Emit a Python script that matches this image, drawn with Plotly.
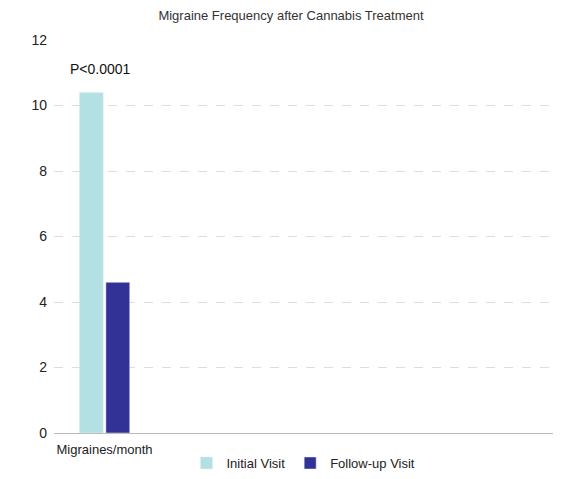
import plotly.graph_objects as go

categories = ["Migraines/month"]
initial = [10.4]
followup = [4.6]

fig = go.Figure()
fig.add_bar(x=categories, y=initial, name="Initial Visit", marker_color="#b3e0e3")
fig.add_bar(x=categories, y=followup, name="Follow-up Visit", marker_color="#323296")
fig.update_layout(
    width=566, height=479, barmode="group", bargap=0.35, bargroupgap=0.1,
    plot_bgcolor="white", paper_bgcolor="white",
    font=dict(family="Liberation Sans, Arial", size=13, color="#222"),
    title=dict(text="Migraine Frequency after Cannabis Treatment", x=0.5, y=0.993, yanchor="top",
               font=dict(size=13, color="#333")),
    margin=dict(l=46, r=21, t=32, b=54, autoexpand=False),
    xaxis=dict(range=[-0.62, 5.5], showline=True, linecolor="#bbb", ticks="", ticklabelstandoff=4,
               tickfont=dict(size=13, color="#222")),
    yaxis=dict(range=[0, 12], dtick=2, showgrid=True, gridcolor="#ddd", griddash="dash",
               zeroline=False, showline=False, ticklabelstandoff=6, tickfont=dict(size=14, color="#222")),
    legend=dict(orientation="h", x=0.5, xanchor="center", yref="container", y=0.05, yanchor="middle",
                font=dict(size=13, color="#222")),
    annotations=[dict(x=-0.05, y=11.1, xref="x", yref="y", text="P<0.0001", showarrow=False,
                      font=dict(size=14, color="#111"))],
)
fig.write_html("out.html")
